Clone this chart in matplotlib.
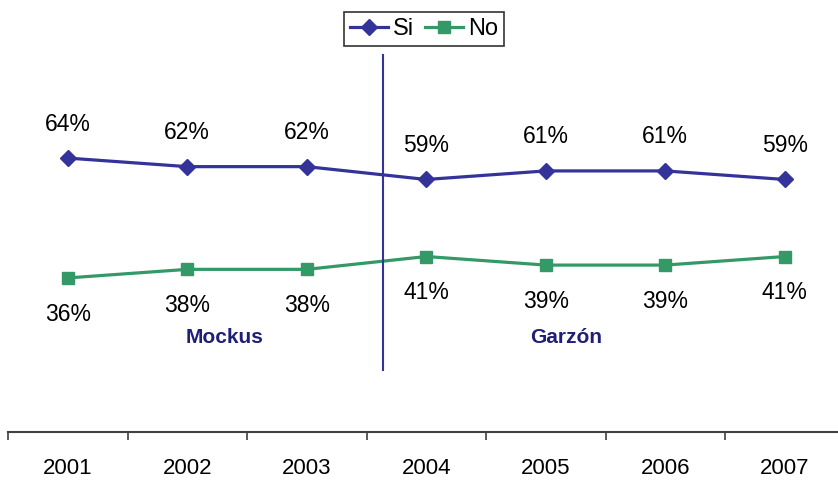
import numpy as np
import matplotlib.pyplot as plt

plt.rcParams['font.family'] = ['Liberation Sans', 'DejaVu Sans']

years = ['2001', '2002', '2003', '2004', '2005', '2006', '2007']
si_vals = [64, 62, 62, 59, 61, 61, 59]
no_vals = [36, 38, 38, 41, 39, 39, 41]
period_names = ['Mockus', 'Garzón']
period_label_x = [1.81, 4.67]   # category units
period_label_y = 22
change_x = 3.14

si_color = '#333399'
no_color = '#339966'
navy = '#1f1f7a'


def main():
    fig = plt.figure(figsize=(8.38, 4.82), dpi=100)
    ax = fig.add_axes([8 / 838, (482 - 432) / 482, 836.5 / 838, 428 / 482])

    x = np.arange(len(years)) + 0.5
    ax.plot(x, si_vals, color=si_color, lw=2.3, marker='D', markersize=8, label='Si')
    ax.plot(x, no_vals, color=no_color, lw=2.3, marker='s', markersize=9, label='No')

    for xi, v in zip(x, si_vals):
        ax.annotate(f'{v}%', (xi, v), xytext=(0, 24.5), textcoords='offset points',
                    ha='center', va='center', fontsize=16.5)
    for xi, v in zip(x, no_vals):
        ax.annotate(f'{v}%', (xi, v), xytext=(0, -26), textcoords='offset points',
                    ha='center', va='center', fontsize=16.5)

    for name, px in zip(period_names, period_label_x):
        ax.text(px, period_label_y, name, ha='center', va='center', fontsize=15,
                fontweight='bold', color=navy)

    # separator between the two periods
    ax.axvline(change_x, ymin=(432 - 370) / 428, ymax=(432 - 55) / 428, color=si_color, lw=1.5)

    ax.set_xlim(0, 7)
    ax.set_ylim(0, 100)
    ax.set_xticks(np.arange(0, 8))
    ax.set_xticklabels([])
    ax.set_xticks(x, minor=True)
    ax.set_xticklabels(years, minor=True, fontsize=16)
    ax.tick_params(axis='x', which='major', length=6, width=1.2, color='#404040', direction='out')
    ax.tick_params(axis='x', which='minor', length=0, pad=19)
    ax.set_yticks([])
    for s in ['top', 'right', 'left']:
        ax.spines[s].set_visible(False)
    ax.spines['bottom'].set_color('#404040')
    ax.spines['bottom'].set_linewidth(1.5)

    leg = ax.legend(loc='upper center', bbox_to_anchor=(416 / 836.5, 1.0 - 8 / 428),
                    ncol=2, fontsize=17, frameon=True, fancybox=False, handlelength=1.6,
                    handletextpad=0.2, columnspacing=0.5, borderpad=0.25, borderaxespad=0)
    leg.get_frame().set_edgecolor('black')
    leg.get_frame().set_linewidth(1.2)

    fig.savefig('out.png', dpi=100)


if __name__ == '__main__':
    main()
